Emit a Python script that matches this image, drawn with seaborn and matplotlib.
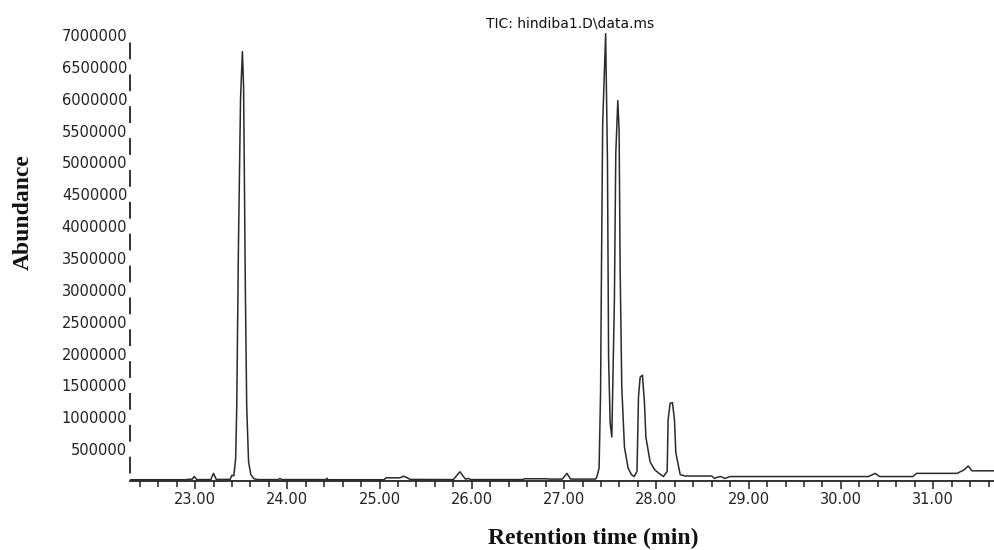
import matplotlib
matplotlib.use("Agg")
import matplotlib.pyplot as plt
from matplotlib.ticker import MultipleLocator, FormatStrFormatter
import numpy as np
import pandas as pd
import seaborn as sns

# retention time (min) and abundance
rt = [22.30, 22.90, 22.93, 22.97, 22.99, 23.02, 23.17, 23.20, 23.23, 23.38,
      23.40, 23.420, 23.440, 23.452, 23.470, 23.493, 23.513, 23.526, 23.545,
      23.560, 23.580, 23.605, 23.640, 23.680, 23.90, 23.92, 23.94, 24.42,
      24.43, 24.44, 25.05, 25.07, 25.22, 25.26, 25.30, 25.33, 25.80, 25.87,
      25.93, 25.96, 25.99, 26.55, 26.57, 26.80, 26.85, 26.98, 27.03, 27.07,
      27.34, 27.354, 27.379, 27.395, 27.405, 27.418, 27.450, 27.470, 27.482,
      27.499, 27.517, 27.545, 27.560, 27.582, 27.596, 27.607, 27.625, 27.654,
      27.694, 27.730, 27.759, 27.790, 27.806, 27.824, 27.849, 27.871, 27.886,
      27.932, 27.980, 28.019, 28.076, 28.117, 28.127, 28.149, 28.174, 28.196,
      28.211, 28.258, 28.312, 28.60, 28.63, 28.66, 28.70, 28.74, 28.78, 28.80,
      30.30, 30.37, 30.42, 30.78, 30.82, 31.26, 31.30, 31.33, 31.38, 31.42,
      31.67]
abundance = [20000, 20000, 28000, 28000, 70000, 22000, 22000, 120000, 25000, 25000,
             90000, 80000, 350000, 1160000, 3650000, 6000000, 6740000, 6200000, 3040000,
             1160000, 300000, 100000, 35000, 22000, 22000, 40000, 22000, 22000,
             45000, 20000, 20000, 50000, 50000, 75000, 50000, 25000, 22000, 145000,
             30000, 40000, 22000, 22000, 35000, 35000, 30000, 30000, 120000, 30000,
             30000, 60000, 200000, 1380000, 3350000, 5610000, 7020000, 5000000, 1940000,
             910000, 690000, 2840000, 5140000, 5970000, 5500000, 3350000, 1470000, 530000,
             200000, 100000, 70000, 150000, 1320000, 1630000, 1660000, 1220000, 690000,
             300000, 180000, 130000, 70000, 150000, 960000, 1220000, 1230000, 960000,
             440000, 100000, 78000, 78000, 40000, 60000, 70000, 40000, 60000, 70000,
             70000, 120000, 70000, 70000, 120000, 120000, 150000, 170000, 235000, 160000,
             160000]

y_ticks = list(range(500000, 7000001, 500000))
title = "TIC: hindiba1.D\\data.ms"

df = pd.DataFrame({"rt": rt, "abundance": abundance})

sns.set_style("white")
plt.rcParams["font.family"] = ["DejaVu Sans"]
plt.rcParams["lines.scale_dashes"] = False

fig = plt.figure(figsize=(9.95, 5.5), dpi=100)
ax = fig.add_axes([130 / 995, 69 / 550, 865 / 995, 446 / 550])

sns.lineplot(data=df, x="rt", y="abundance", ax=ax, estimator=None, sort=False,
             color="#2a2a2a", linewidth=1.1, clip_on=False)

ax.set_xlim(22.295, 31.67)
ax.set_ylim(0, 7000000)

ax.xaxis.set_major_locator(MultipleLocator(1))
ax.xaxis.set_minor_locator(MultipleLocator(0.2))
ax.xaxis.set_major_formatter(FormatStrFormatter("%.2f"))
ax.set_yticks(y_ticks)
ax.set_yticklabels([str(v) for v in y_ticks])

ax.tick_params(axis="x", which="major", direction="out", length=6, width=1.1,
               color="#222222", labelsize=10.5, labelcolor="#222222", pad=2, bottom=True)
ax.tick_params(axis="x", which="minor", direction="out", length=4.3, width=1.1,
               color="#222222", bottom=True)
ax.tick_params(axis="y", length=0, labelsize=10.5, labelcolor="#222222", pad=2)

for side in ["top", "right"]:
    ax.spines[side].set_visible(False)
ax.spines["bottom"].set_linewidth(1.3)
ax.spines["bottom"].set_color("#222222")
left = ax.spines["left"]
left.set_linewidth(1.3)
left.set_color("#222222")
# broken left axis: gaps sit on the tick labels
left.set_linestyle((16.9, (10.8, 12.14)))

ax.set_xlabel("Retention time (min)", family="Liberation Serif", fontweight="bold",
              fontsize=17, color="#111111")
ax.xaxis.set_label_coords(0.536, -0.105)
ax.set_ylabel("Abundance", family="Liberation Serif", fontweight="bold",
              fontsize=17, color="#111111", va="center")
ax.yaxis.set_label_coords(-0.123, 0.603)

ax.text(0.509, 1.025, title, transform=ax.transAxes, ha="center", va="center",
        fontsize=10, color="#111111")

fig.savefig("out.png", dpi=100)
